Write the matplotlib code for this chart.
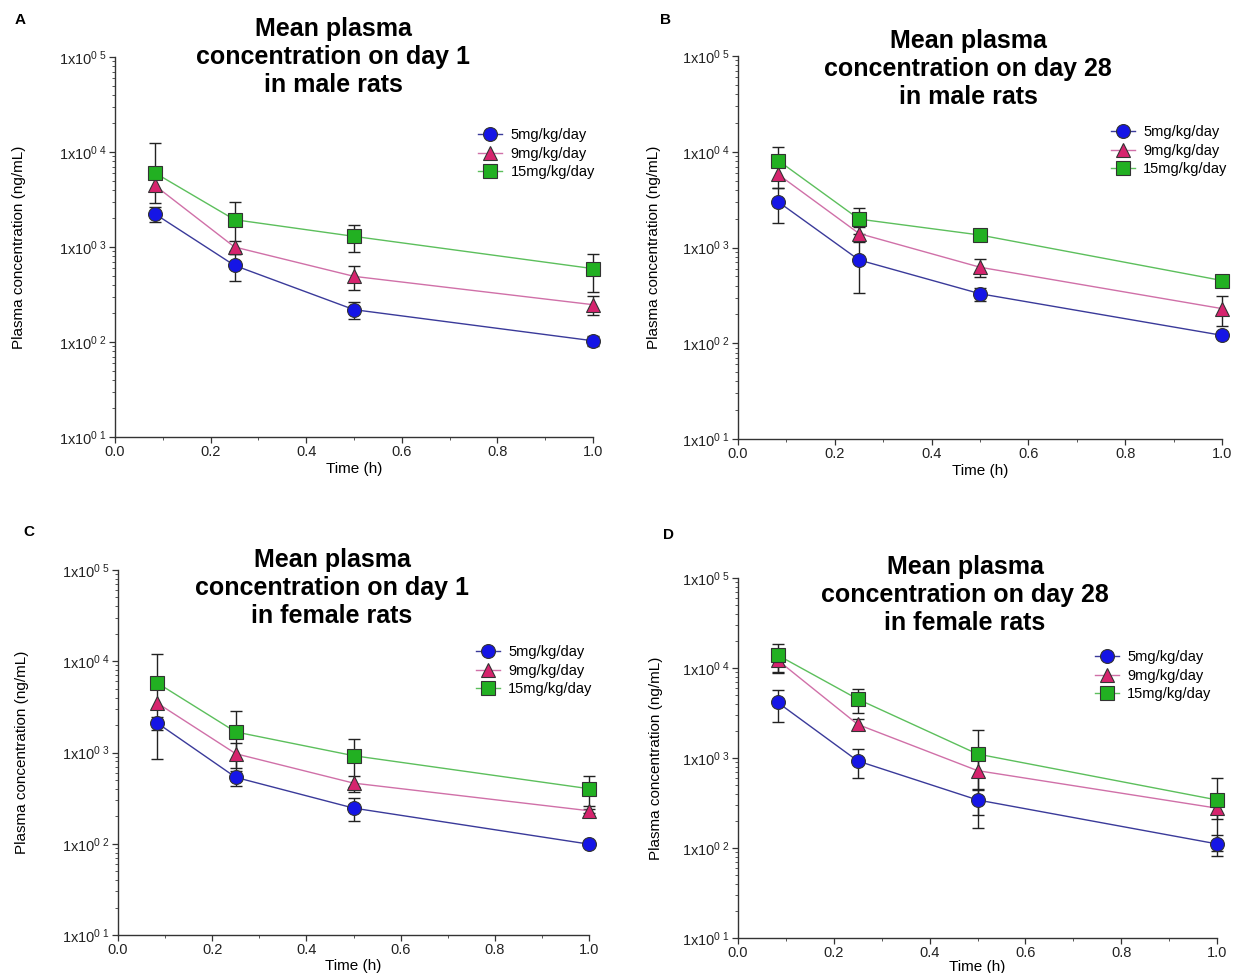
import numpy as np
import matplotlib
matplotlib.use("Agg")
import matplotlib.pyplot as plt
from matplotlib.ticker import FixedLocator, FixedFormatter, LogLocator, NullFormatter, MultipleLocator

plt.rcParams['font.family'] = ['Liberation Sans', 'DejaVu Sans']
plt.rcParams['mathtext.fontset'] = 'custom'
plt.rcParams['mathtext.rm'] = 'Liberation Sans'
plt.rcParams['mathtext.it'] = 'Liberation Sans'

# sampling times (h)
times = [0.083, 0.25, 0.5, 1.0]
doses = ["5mg/kg/day", "9mg/kg/day", "15mg/kg/day"]

# mean plasma concentration (ng/mL) and SD
# A: day 1, male
a_mean_5 = [2240, 640, 219, 103]
a_sd_5 = [420, 205, 45, 12]
a_mean_9 = [4460, 1000, 491, 247]
a_sd_9 = [1530, 150, 135, 55]
a_mean_15 = [6050, 1940, 1294, 592]
a_sd_15 = [6500, 1040, 410, 260]

# B: day 28, male
b_mean_5 = [3000, 741, 329, 121]
b_sd_5 = [1200, 410, 52, 8]
b_mean_9 = [5800, 1400, 622, 230]
b_sd_9 = [1600, 230, 130, 80]
b_mean_15 = [8100, 1980, 1350, 452]
b_sd_15 = [3000, 600, 160, 20]

# C: day 1, female
c_mean_5 = [2110, 534, 246, 99]
c_sd_5 = [340, 100, 68, 5]
c_mean_9 = [3490, 970, 462, 230]
c_sd_9 = [2650, 300, 90, 10]
c_mean_15 = [5800, 1680, 923, 401]
c_sd_15 = [6250, 1150, 500, 145]

# D: day 28, female
d_mean_5 = [4140, 927, 342, 111]
d_sd_5 = [1620, 320, 110, 30]
d_mean_9 = [12200, 2360, 724, 277]
d_sd_9 = [3400, 330, 280, 67]
d_mean_15 = [13900, 4510, 1107, 342]
d_sd_15 = [4800, 1380, 940, 250]

panels = [
    ("A", "Mean plasma\nconcentration on day 1\nin male rats",
     [(a_mean_5, a_sd_5), (a_mean_9, a_sd_9), (a_mean_15, a_sd_15)]),
    ("B", "Mean plasma\nconcentration on day 28\nin male rats",
     [(b_mean_5, b_sd_5), (b_mean_9, b_sd_9), (b_mean_15, b_sd_15)]),
    ("C", "Mean plasma\nconcentration on day 1\nin female rats",
     [(c_mean_5, c_sd_5), (c_mean_9, c_sd_9), (c_mean_15, c_sd_15)]),
    ("D", "Mean plasma\nconcentration on day 28\nin female rats",
     [(d_mean_5, d_sd_5), (d_mean_9, d_sd_9), (d_mean_15, d_sd_15)]),
]

# layout in pixels: axes box (left, top, right, bottom), title centre, letter, legend anchor, ylabel x
W, H = 1234, 973
layout = {
    "A": dict(box=(115, 57, 593, 437), title=(333, 57), letter=(15, 20), leg=(471, 121), ylab=26, xpad=2),
    "B": dict(box=(738, 56, 1222, 439), title=(968, 69), letter=(660, 20), leg=(1104, 118), ylab=661, xpad=2),
    "C": dict(box=(118, 570, 589, 935), title=(332, 588), letter=(23, 532), leg=(469, 638), ylab=29, xpad=1),
    "D": dict(box=(738, 578, 1217, 938), title=(965, 595), letter=(663, 535), leg=(1088, 643), ylab=663, xpad=0),
}

markers = ["o", "^", "s"]
face_colors = ["#1515e6", "#d6246e", "#22b022"]
line_colors = ["#3a3a9a", "#d070a8", "#5cbf5c"]

fig = plt.figure(figsize=(W / 100, H / 100), dpi=100)

for letter, title, series in panels:
    lay = layout[letter]
    l, t, r, b = lay["box"]
    ax = fig.add_axes([l / W, 1 - b / H, (r - l) / W, (b - t) / H])

    for i, (mean, sd) in enumerate(series):
        mean = np.array(mean, dtype=float)
        sd = np.array(sd, dtype=float)
        lower = np.where(mean - sd > 0, sd, 0)
        ax.errorbar(times, mean, yerr=[lower, sd], fmt="none", ecolor="#222222",
                    elinewidth=1.0, capsize=4, capthick=1.0, zorder=2, clip_on=False)
        ax.plot(times, mean, color=line_colors[i], lw=1.0, marker=markers[i],
                markersize=10 if markers[i] != "^" else 10.5,
                markerfacecolor=face_colors[i], markeredgecolor="#333333",
                markeredgewidth=0.8, label=doses[i], zorder=3 + i, clip_on=False)

    ax.set_yscale("log")
    ax.set_ylim(10, 1e5)
    ax.set_xlim(0, 1.0)
    ax.yaxis.set_major_locator(FixedLocator([1e1, 1e2, 1e3, 1e4, 1e5]))
    ax.yaxis.set_major_formatter(FixedFormatter(
        [r"1x10$^{0\ %d}$" % k for k in range(1, 6)]))
    ax.yaxis.set_minor_locator(LogLocator(base=10, subs=np.arange(2, 10)))
    ax.yaxis.set_minor_formatter(NullFormatter())
    ax.xaxis.set_major_locator(MultipleLocator(0.2))
    ax.xaxis.set_minor_locator(MultipleLocator(0.1))
    ax.xaxis.set_major_formatter(matplotlib.ticker.FormatStrFormatter("%.1f"))

    for s in ["top", "right"]:
        ax.spines[s].set_visible(False)
    for s in ["left", "bottom"]:
        ax.spines[s].set_color("#333333")
        ax.spines[s].set_linewidth(1.0)
    ax.tick_params(which="major", length=4, width=0.9, color="#333333",
                   labelsize=10.5, labelcolor="#222222", pad=2)
    ax.tick_params(which="minor", length=2.5, width=0.7, color="#555555")

    ax.set_xlabel("Time (h)", fontsize=11, labelpad=lay["xpad"])
    ax.set_ylabel("Plasma concentration (ng/mL)", fontsize=11)
    ax.yaxis.set_label_coords((lay["ylab"] - l) / (r - l), 0.5)

    fig.text(lay["title"][0] / W, 1 - lay["title"][1] / H, title, ha="center", va="center",
             fontsize=18, fontweight="bold", linespacing=1.2)
    fig.text(lay["letter"][0] / W, 1 - lay["letter"][1] / H, letter, ha="left", va="center",
             fontsize=11, fontweight="bold")

    ax.legend(loc="upper left", bbox_to_anchor=(lay["leg"][0] / W, 1 - lay["leg"][1] / H),
              bbox_transform=fig.transFigure, frameon=False, fontsize=10.5,
              handlelength=1.6, handletextpad=0.6, labelspacing=0.3, borderpad=0)

fig.savefig("out.png", dpi=100)
